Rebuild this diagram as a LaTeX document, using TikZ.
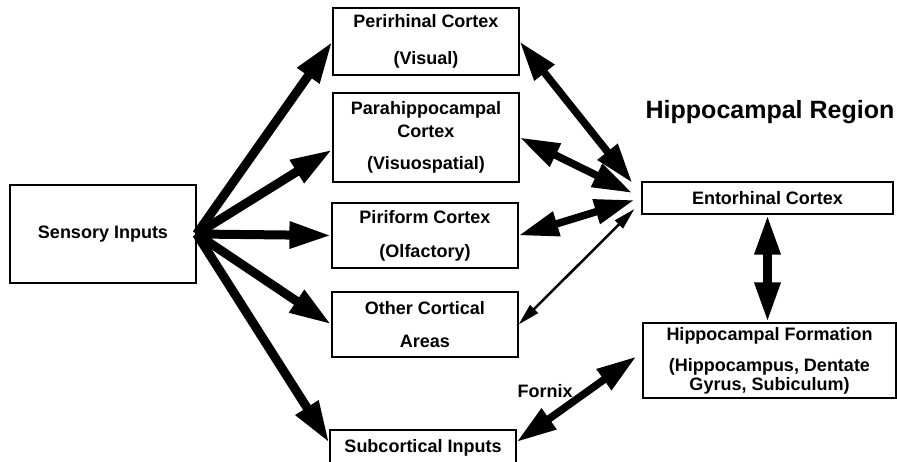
\documentclass[tikz,border=0pt]{standalone}
\usepackage{fontspec}
\setmainfont{Liberation Sans}
\usetikzlibrary{arrows.meta,positioning}

\begin{document}
\begin{tikzpicture}[x=1pt,y=1pt,
                    box node/.style={draw,line width=1.2pt,align=center,inner sep=0pt,
                      minimum width=186pt,font=\bfseries\fontsize{18}{22}\selectfont},
                    feed/.style={line width=9pt,-{Triangle[length=42pt,width=25pt]}},
                    link/.style={line width=7.5pt,{Triangle[length=40pt,width=24pt]}-{Triangle[length=40pt,width=24pt]}},
                    thin link/.style={line width=2.5pt,{Triangle[length=22pt,width=11pt]}-{Triangle[length=22pt,width=11pt]}}]

  \useasboundingbox (0,0) rectangle (897,-461);

  \node[box node,minimum height=98pt] (sens) at (103,-234) {Sensory Inputs};
  \node[box node,minimum height=67pt] (peri) at (426,-41.5) {Perirhinal Cortex\\[15pt](Visual)};
  \node[box node,minimum height=89pt] (para) at (426,-137.5) {Parahippocampal\\[1pt]Cortex\\[10pt](Visuospatial)};
  \node[box node,minimum height=65pt] (piri) at (425,-235.5) {Piriform Cortex\\[12pt](Olfactory)};
  \node[box node,minimum height=65pt] (other) at (425,-324.5) {Other Cortical\\[11pt]Areas};
  \node[box node,minimum height=36pt] (sub) at (423,-448) {Subcortical Inputs};
  \node[box node,minimum width=251pt,minimum height=32pt] (ento) at (767.5,-198) {Entorhinal Cortex};
  \node[box node,minimum width=253pt,minimum height=75pt] (hf) at (769.5,-360.5)
    {Hippocampal Formation\\[9pt](Hippocampus, Dentate\\[-3pt]Gyrus, Subiculum)};

  \node[font=\bfseries\fontsize{25}{30}\selectfont] (region) at (770,-112) {Hippocampal Region};
  \node[font=\bfseries\fontsize{18}{22}\selectfont] (fornix) at (545,-391) {Fornix};

  % sensory projections
  \path
  (sens.east) edge[feed] (peri.west)
  (sens.east) edge[feed] ([yshift=-12pt]para.west)
  (sens.east) edge[feed] (piri.west)
  (sens.east) edge[feed] (other.west)
  (sens.east) edge[feed] ([yshift=5pt]sub.west);

  % cortical links to entorhinal cortex
  \path
  (peri.east) edge[link] ([xshift=-9pt,yshift=15pt]ento.west)
  (para.east) edge[link] ([xshift=-9pt,yshift=5pt]ento.west)
  (piri.east) edge[link] ([xshift=-7pt,yshift=-2pt]ento.west)
  (other.east) edge[thin link] ([xshift=-7pt,yshift=-11pt]ento.west);

  \path
  (ento.south) edge[link,line width=9pt] (ento.south |- hf.north)
  ([yshift=6pt]sub.east) edge[link] ([xshift=-6pt,yshift=4pt]hf.west);

\end{tikzpicture}
\end{document}
